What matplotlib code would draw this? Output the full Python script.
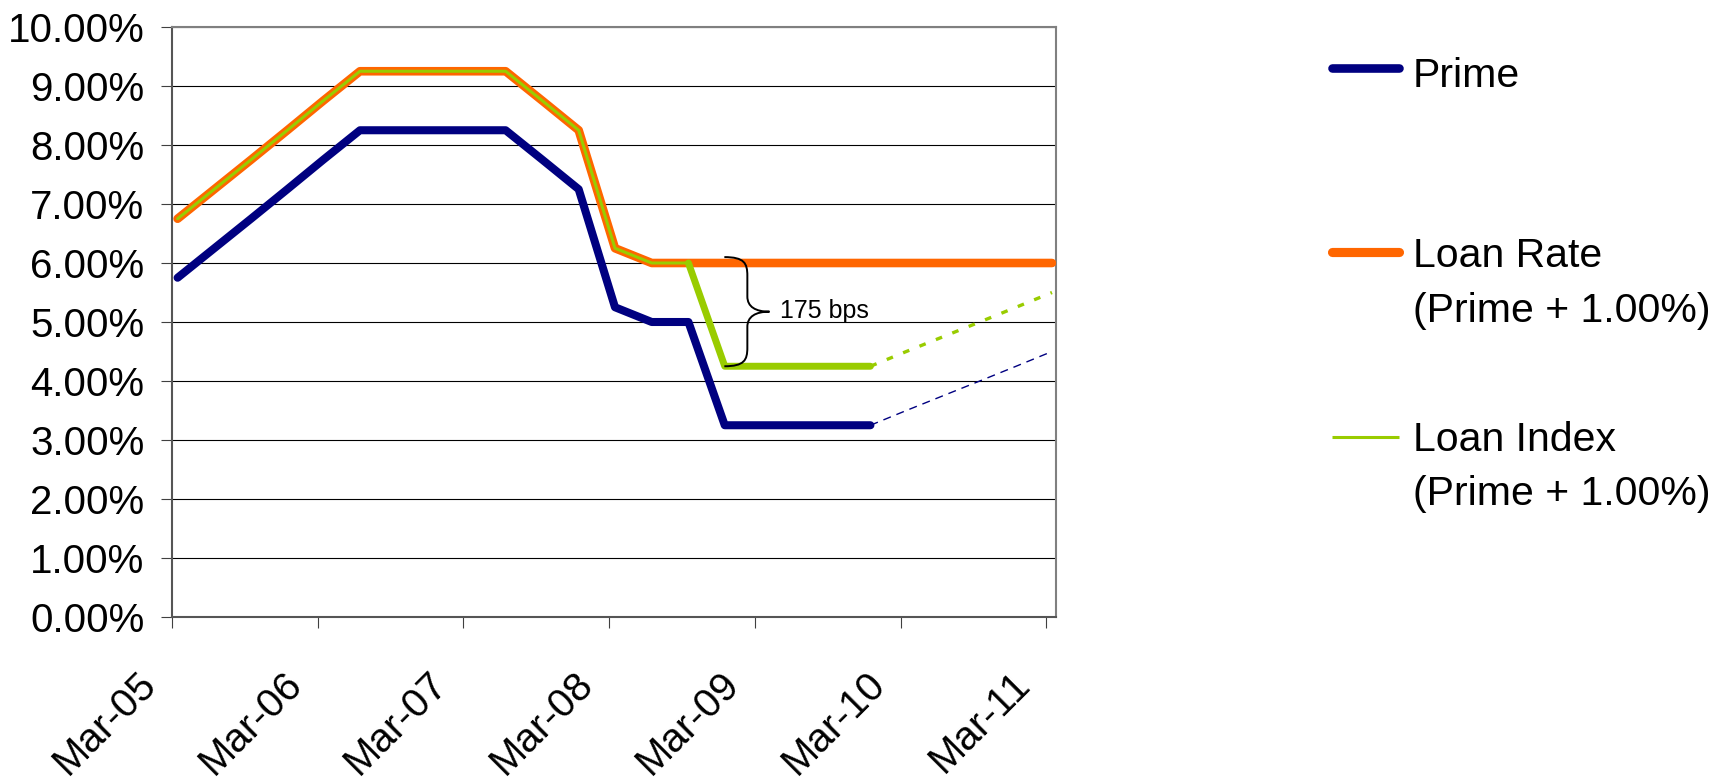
import matplotlib.pyplot as plt
import matplotlib.dates as mdates
import matplotlib.ticker as mticker
import matplotlib.transforms as mtransforms
import pandas as pd
from matplotlib.path import Path
from matplotlib.patches import PathPatch
from matplotlib.lines import Line2D

plt.rcParams['font.family'] = ['Liberation Sans', 'DejaVu Sans']

# quarterly observations (plotted mid-month)
hist_dates = pd.to_datetime([
    '2005-03-15', '2005-06-15', '2005-09-15', '2005-12-15',
    '2006-03-15', '2006-06-15', '2006-09-15', '2006-12-15',
    '2007-03-15', '2007-06-15', '2007-09-15', '2007-12-15',
    '2008-03-15', '2008-06-15', '2008-09-15', '2008-12-15',
    '2009-03-15', '2009-06-15', '2009-09-15', '2009-12-15'])
proj_dates = pd.to_datetime([
    '2009-12-15', '2010-03-15', '2010-06-15', '2010-09-15',
    '2010-12-15', '2011-03-15'])
all_dates = hist_dates.append(proj_dates[1:])

prime = [5.75, 6.25, 6.75, 7.25, 7.75, 8.25, 8.25, 8.25, 8.25, 8.25,
         7.75, 7.25, 5.25, 5.00, 5.00, 3.25, 3.25, 3.25, 3.25, 3.25]
prime_proj = [3.25, 3.50, 3.75, 4.00, 4.25, 4.50]

loan_rate = [6.75, 7.25, 7.75, 8.25, 8.75, 9.25, 9.25, 9.25, 9.25, 9.25,
             8.75, 8.25, 6.25, 6.00, 6.00, 6.00, 6.00, 6.00, 6.00, 6.00,
             6.00, 6.00, 6.00, 6.00, 6.00]

# loan index: tracks loan rate until Sep-08, then drops with prime
index_early = [6.75, 7.25, 7.75, 8.25, 8.75, 9.25, 9.25, 9.25, 9.25, 9.25,
               8.75, 8.25, 6.25, 6.00, 6.00]
index_late = [6.00, 4.25, 4.25, 4.25, 4.25, 4.25]
index_proj = [4.25, 4.50, 4.75, 5.00, 5.25, 5.50]

gap_label = '175 bps'

NAVY = '#000080'
ORANGE = '#FF6600'
LIME = '#99CC00'

W, H = 1728, 781
fig = plt.figure(figsize=(W / 100, H / 100), dpi=100)
ax = fig.add_axes([172 / W, 1 - 617 / H, (1056 - 172) / W, (617 - 27) / H])

ax.plot(all_dates, loan_rate, color=ORANGE, lw=6.2,
        solid_capstyle='round', solid_joinstyle='round', zorder=3)
ax.plot(hist_dates[:15], index_early, color=LIME, lw=2.2,
        solid_capstyle='round', solid_joinstyle='round', zorder=4)
ax.plot(hist_dates[14:], index_late, color=LIME, lw=5.0,
        solid_capstyle='round', solid_joinstyle='round', zorder=5)
ax.plot(proj_dates, index_proj, color=LIME, lw=2.4,
        linestyle=(0, (2.0, 3.3)), zorder=5)
ax.plot(hist_dates, prime, color=NAVY, lw=5.8,
        solid_capstyle='round', solid_joinstyle='round', zorder=6)
ax.plot(proj_dates, prime_proj, color=NAVY, lw=1.0,
        linestyle=(0, (5.8, 4.3)), zorder=6)

# axes
ax.set_ylim(0, 10)
ax.set_yticks(range(0, 11))
ax.yaxis.set_major_formatter(mticker.FuncFormatter(lambda v, p: f'{v:.2f}%'))
ax.set_xlim(pd.Timestamp('2005-03-01'), pd.Timestamp('2011-03-25'))
ax.set_xticks(pd.to_datetime([f'{y}-03-01' for y in range(2005, 2012)]))
ax.xaxis.set_major_formatter(mdates.DateFormatter('%b-%y'))

ax.yaxis.grid(True, color='black', lw=0.8)
ax.set_axisbelow(True)
for side in ['left', 'bottom']:
    ax.spines[side].set_color('#555555')
    ax.spines[side].set_linewidth(1.5)
for side in ['top', 'right']:
    ax.spines[side].set_color('#808080')
    ax.spines[side].set_linewidth(1.5)

ax.tick_params(axis='both', direction='out', length=8, width=0.8,
               color='#404040', labelsize=29, labelcolor='black')
ax.tick_params(axis='y', pad=12)
ax.tick_params(axis='x', pad=36)
shift = mtransforms.ScaledTranslation(-0.22, 0, fig.dpi_scale_trans)
for lab in ax.get_xticklabels():
    lab.set_rotation(45)
    lab.set_ha('right')
    lab.set_va('center')
    lab.set_rotation_mode('anchor')
    lab.set_transform(lab.get_transform() + shift)


# curly brace between loan rate and loan index
def draw_brace(ax, x0, x1, y_top, y_bot):
    w = x1 - x0
    h = y_top - y_bot
    shape = [(0, 0), (0.44, 0), (0.51, 0.055), (0.51, 0.17), (0.51, 0.36),
             (0.51, 0.455), (0.69, 0.5), (1.0, 0.5),
             (0.69, 0.5), (0.51, 0.545), (0.51, 0.64), (0.51, 0.83),
             (0.51, 0.945), (0.44, 1.0), (0, 1.0)]
    codes = [Path.MOVETO] + [Path.CURVE4] * 3 + [Path.LINETO] + \
        [Path.CURVE4] * 6 + [Path.LINETO] + [Path.CURVE4] * 3
    verts = [(x0 + fx * w, y_top - fy * h) for fx, fy in shape]
    ax.add_patch(PathPatch(Path(verts, codes), fill=False, lw=1.4,
                           color='black', zorder=7))
    return x1, (y_top + y_bot) / 2


bx0 = mdates.date2num(pd.Timestamp('2008-12-14'))
bx1 = mdates.date2num(pd.Timestamp('2009-04-06'))
tip = draw_brace(ax, bx0, bx1, 6.10, 4.25)
ax.annotate(gap_label, xy=tip, xytext=(7.5, -4.7), textcoords='offset points',
            fontsize=18, va='baseline', ha='left')

# legend drawn on the figure
handles = [
    (68, NAVY, 6.2, 'round', ['Prime'], [87]),
    (252, ORANGE, 6.6, 'round', ['Loan Rate', '(Prime + 1.00%)'], [267, 322]),
    (437, LIME, 2.2, 'butt', ['Loan Index', '(Prime + 1.00%)'], [451, 505]),
]
for y, col, lw, cap, lines, baselines in handles:
    fig.add_artist(Line2D([1332 / W, 1399 / W], [1 - y / H, 1 - y / H],
                          color=col, lw=lw, solid_capstyle=cap,
                          transform=fig.transFigure))
    for txt, yb in zip(lines, baselines):
        fig.text(1413 / W, 1 - yb / H, txt, fontsize=29.5, va='baseline',
                 ha='left')

fig.savefig('out.png', dpi=100)
